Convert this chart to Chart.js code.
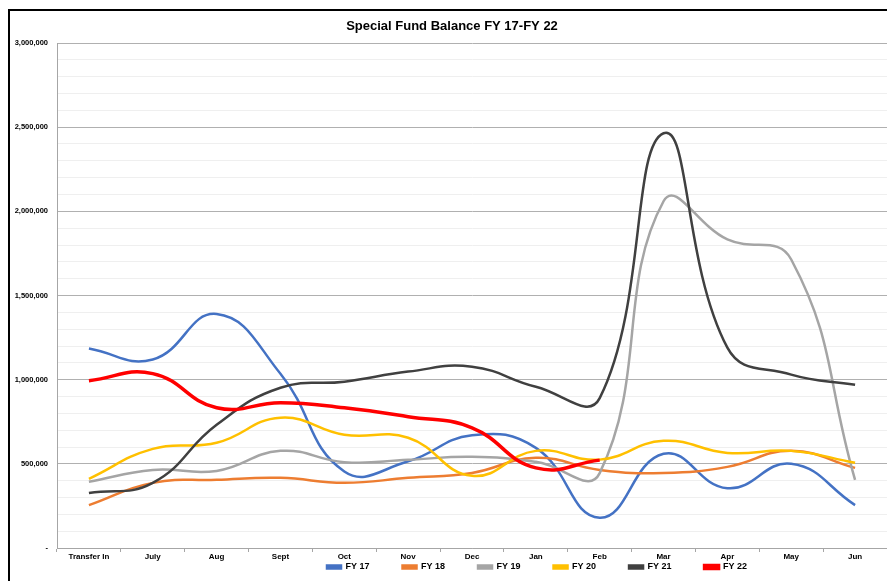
<!DOCTYPE html>
<html>
<head>
<meta charset="utf-8">
<script src="https://cdn.jsdelivr.net/npm/chart.js@4/dist/chart.umd.min.js"></script>
<style>
  html, body { margin: 0; padding: 0; background: #fff; overflow: hidden; }
  #frame { position: absolute; left: 8px; top: 9px; width: 1000px; height: 700px;
           border-left: 2px solid #000; border-top: 2px solid #000; }
  #wrap { position: absolute; left: 0; top: 0; width: 887px; height: 581px; }
</style>
</head>
<body>
<div id="frame"></div>
<div id="wrap"><canvas id="fundChart"></canvas></div>
<script>
// Special Fund Balance FY 17 - FY 22

const months = ['Transfer In', 'July', 'Aug', 'Sept', 'Oct', 'Nov', 'Dec', 'Jan', 'Feb', 'Mar', 'Apr', 'May', 'Jun'];

const fy17 = [1185000, 1120000, 1390000, 1035000, 455000, 515000, 670000, 595000, 180000, 560000, 355000, 500000, 255000];
const fy18 = [255000, 387000, 405000, 417000, 387000, 417000, 446000, 536000, 464000, 446000, 482000, 577000, 476000];
const fy19 = [393000, 464000, 458000, 577000, 510000, 524000, 542000, 512000, 445000, 2060000, 1833000, 1714000, 405000];
const fy20 = [411000, 589000, 625000, 774000, 673000, 655000, 429000, 577000, 525000, 637000, 565000, 577000, 506000];
const fy21 = [327000, 387000, 732000, 952000, 988000, 1048000, 1077000, 958000, 890000, 2464000, 1190000, 1030000, 970000];
const fy22 = [994000, 1036000, 833000, 863000, 833000, 780000, 714000, 476000, 522000];

const seriesNames = ['FY 17', 'FY 18', 'FY 19', 'FY 20', 'FY 21', 'FY 22'];
const seriesColors = ['#4472C4', '#ED7D31', '#A5A5A5', '#FFC000', '#404040', '#FF0000'];
const seriesData = [fy17, fy18, fy19, fy20, fy21, fy22];

// ligne lissée comme dans Excel
function makeDataset(i) {
  return {
    label: seriesNames[i],
    data: seriesData[i],
    borderColor: seriesColors[i],
    backgroundColor: seriesColors[i],
    borderWidth: i === 5 ? 3.5 : 2.5,
    pointRadius: 0,
    tension: 0.45,
    fill: false,
    order: 6 - i
  };
}

// place le titre et la légende comme dans l'original
const boxMover = {
  id: 'boxMover',
  afterLayout(chart) {
    const tb = chart.titleBlock;
    if (tb) { tb.left = 17; tb.right = 887; }
    const lg = chart.legend;
    if (lg) {
      lg.left = 294;
      lg.right = 887;
      lg.top = 567 - 33 - 4.5;
    }
  }
};

Chart.defaults.font.family = '"Liberation Sans", Arial, sans-serif';
Chart.defaults.color = '#000';

new Chart(document.getElementById('fundChart').getContext('2d'), {
  type: 'line',
  data: {
    labels: months,
    datasets: seriesData.map((d, i) => makeDataset(i))
  },
  options: {
    responsive: true,
    maintainAspectRatio: false,
    animation: false,
    layout: { padding: { left: 0, right: 0, top: 10, bottom: 0 } },
    plugins: {
      title: {
        display: true,
        text: 'Special Fund Balance FY 17-FY 22',
        font: { size: 13, weight: 'bold' },
        color: '#000',
        padding: { top: 9, bottom: 8.4 }
      },
      legend: {
        position: 'bottom',
        align: 'start',
        maxHeight: 17,
        labels: {
          boxWidth: 14,
          boxHeight: 3,
          padding: 33,
          font: { size: 9, weight: 'bold' },
          sort: (a, b) => a.datasetIndex - b.datasetIndex
        }
      },
      tooltip: { enabled: false }
    },
    scales: {
      x: {
        offset: true,
        grid: {
          offset: true,
          drawOnChartArea: false,
          drawTicks: true,
          tickLength: 4,
          color: '#a6a6a6'
        },
        border: { display: true, color: '#a6a6a6' },
        ticks: {
          padding: 0,
          autoSkip: false,
          maxRotation: 0,
          font: { size: 8, weight: 'bold' }
        },
        afterFit(scale) { scale.height = 16; }
      },
      y: {
        min: 0,
        max: 3000000,
        grid: {
          drawTicks: false,
          color: ctx => (ctx.tick && ctx.tick.value % 500000 === 0) ? '#b0b0b0' : '#efefef'
        },
        border: { display: true, color: '#a6a6a6' },
        ticks: {
          stepSize: 100000,
          autoSkip: false,
          padding: 9,
          font: { size: 7.5, weight: 'bold' },
          callback: v => v % 500000 !== 0 ? '' : (v === 0 ? '-' : v.toLocaleString('en-US'))
        },
        afterFit(scale) { scale.width = 57; }
      }
    }
  },
  plugins: [boxMover]
});
</script>
</body>
</html>
